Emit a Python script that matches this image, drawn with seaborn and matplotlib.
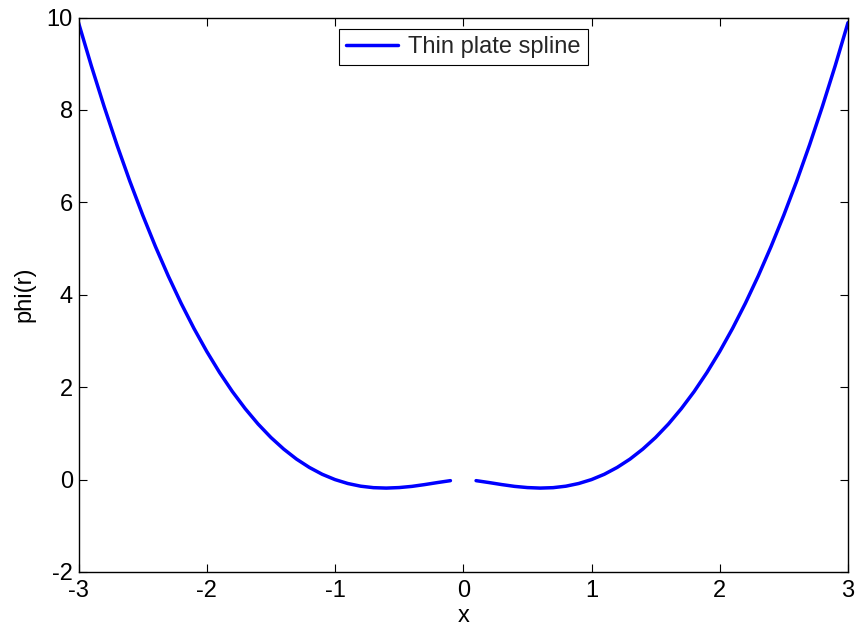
import numpy as np
import pandas as pd
import matplotlib
matplotlib.use("Agg")
import matplotlib.pyplot as plt
import seaborn as sns

# Data: x positions and phi(r) values, gap at x = 0
x_right = [0.1, 0.2, 0.3, 0.4, 0.5, 0.6, 0.7, 0.8, 0.9, 1.0,
           1.1, 1.2, 1.3, 1.4, 1.5, 1.6, 1.7, 1.8, 1.9, 2.0,
           2.1, 2.2, 2.3, 2.4, 2.5, 2.6, 2.7, 2.8, 2.9, 3.0]
phi_right = [-0.023, -0.064, -0.108, -0.147, -0.173, -0.184, -0.175, -0.143, -0.085, 0.0,
             0.115, 0.263, 0.443, 0.660, 0.912, 1.203, 1.534, 1.904, 2.317, 2.773,
             3.272, 3.816, 4.406, 5.043, 5.727, 6.459, 7.241, 8.072, 8.954, 9.888]
x_left = [-v for v in x_right]
phi_left = list(phi_right)

series_label = "Thin plate spline"
x_ticks = [-3, -2, -1, 0, 1, 2, 3]
y_ticks = [-2, 0, 2, 4, 6, 8, 10]

sns.set_theme(style="white")
plt.rcParams['font.family'] = ['Liberation Sans', 'DejaVu Sans']

FS = 17

fig = plt.figure(figsize=(8.55, 6.32), dpi=100)
ax = fig.add_axes([78.5 / 855, 1 - 572 / 632, (848 - 78.5) / 855, (572 - 17.5) / 632])

df_l = pd.DataFrame({"x": x_left, "phi": phi_left}).sort_values("x")
df_r = pd.DataFrame({"x": x_right, "phi": phi_right})

sns.lineplot(data=df_l, x="x", y="phi", ax=ax, color="#0000ff", linewidth=2.5,
             label=series_label, sort=True, estimator=None)
sns.lineplot(data=df_r, x="x", y="phi", ax=ax, color="#0000ff", linewidth=2.5,
             sort=True, estimator=None)

ax.set_xlim(-3, 3)
ax.set_ylim(-2, 10)
ax.set_xticks(x_ticks)
ax.set_yticks(y_ticks)
ax.set_xticklabels([str(t) for t in x_ticks], fontsize=FS)
ax.set_yticklabels([str(t) for t in y_ticks], fontsize=FS)
ax.tick_params(direction="in", length=5.5, width=0.8, color="black",
               top=True, right=True, bottom=True, left=True, labelcolor="black")
ax.tick_params(axis="x", pad=6)
ax.tick_params(axis="y", pad=4)
for s in ax.spines.values():
    s.set_color("black")
    s.set_linewidth(1.0)
    s.set_visible(True)

ax.set_xlabel("x", fontsize=FS, labelpad=2, color="black")
ax.set_ylabel("phi(r)", fontsize=FS, labelpad=8, color="black")

leg = ax.legend(loc="upper center", bbox_to_anchor=(0.5, 0.979), fontsize=FS,
                frameon=True, fancybox=False, edgecolor="black", framealpha=1,
                handlelength=2.2, borderpad=0.3, handletextpad=0.45, borderaxespad=0.0)
leg.get_frame().set_linewidth(0.8)

fig.savefig("out.png", dpi=100, facecolor="white")
